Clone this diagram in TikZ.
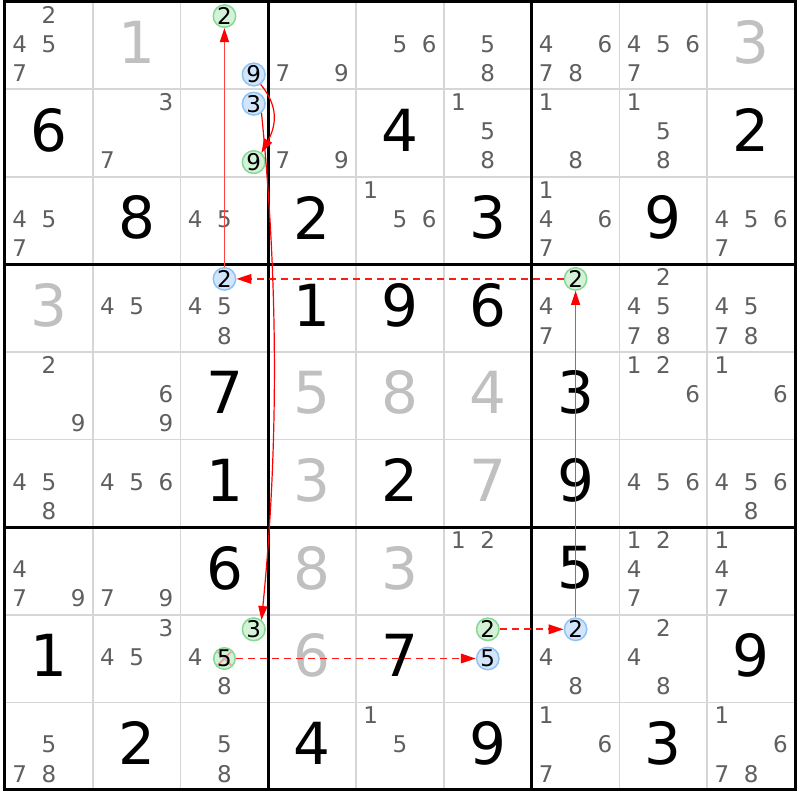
\documentclass[tikz,border=0pt]{standalone}
\usepackage{fontspec}
\setmainfont{DejaVu Sans}
\usetikzlibrary{arrows.meta}
\definecolor{givencol}{HTML}{C0C0C0}
\definecolor{candcol}{HTML}{5F5F5F}
\definecolor{gridthin}{HTML}{D6D6D6}
\definecolor{gfill}{HTML}{D4F2D8}
\definecolor{gline}{HTML}{86D895}
\definecolor{bfill}{HTML}{D2E5FA}
\definecolor{bline}{HTML}{8EC3F4}
\definecolor{xcol}{HTML}{F4A0A0}
\definecolor{linkred}{HTML}{FF1A1A}
\begin{document}
\begin{tikzpicture}[x=87.78pt,y=87.6pt,
  cand/.style={text=candcol, font=\fontsize{23}{23}\selectfont, inner sep=0pt, anchor=center, yshift=1.5pt},
  big/.style={font=\fontsize{58}{58}\selectfont, inner sep=0pt, anchor=center, yshift=3pt},
  givn/.style={big, text=givencol},
  solved/.style={big, text=black},
  oncirc/.style={circle, draw=gline, fill=gfill, line width=1.5pt, minimum size=21.5pt, inner sep=0pt, font=\fontsize{23}{23}\selectfont, text=black},
  offcirc/.style={oncirc, draw=bline, fill=bfill},
  circtext/.style={inner sep=0pt, font=\fontsize{23}{23}\selectfont, text=black},
  strong/.style={draw=red!75, line width=1.2pt, -{Triangle[length=14pt,width=9pt,color=red]}},
  curvelink/.style={draw=red, line width=1.2pt, -{Triangle[length=14pt,width=9pt,color=red]}},
  weak/.style={draw=linkred, line width=1.9pt, dash pattern=on 7pt off 5pt, -{Triangle[length=15pt,width=9.5pt,color=red]}},
  thinline/.style={gridthin, line width=1.6pt},
  thickline/.style={black, line width=3pt},
]
\useasboundingbox[fill=white] (-5pt,1.5pt) rectangle (795pt,-798.5pt);
% grid
\foreach \i in {1,2,4,5,7,8} {
  \draw[thinline] (\i,0) -- (\i,-9);
  \draw[thinline] (0,-\i) -- (9,-\i);
}
\foreach \i in {3,6} {
  \draw[thickline] (\i,0) -- (\i,-9);
  \draw[thickline] (0,-\i) -- (9,-\i);
}
\draw[thickline, line join=miter] (0,0) rectangle (9,-9);
% givens
\foreach \r/\c/\v in {0/1/1, 0/8/3, 3/0/3, 4/3/5, 4/4/8, 4/5/4, 5/3/3, 5/5/7, 6/3/8, 6/4/3, 7/3/6}
  \node[givn] (d\r\c) at (\c+0.5,-\r-0.5) {\v};
% solved
\foreach \r/\c/\v in {1/0/6, 1/4/4, 1/8/2, 2/1/8, 2/3/2, 2/5/3, 2/7/9, 3/3/1, 3/4/9, 3/5/6, 4/2/7, 4/6/3, 5/2/1, 5/4/2, 5/6/9, 6/2/6, 6/6/5, 7/0/1, 7/4/7, 7/8/9, 8/1/2, 8/3/4, 8/5/9, 8/7/3}
  \node[solved] (d\r\c) at (\c+0.5,-\r-0.5) {\v};
% candidates
\foreach \r/\c/\ks in {0/0/{2,4,5,7}, 0/3/{7,9}, 0/4/{5,6}, 0/5/{5,8}, 0/6/{4,6,7,8}, 0/7/{4,5,6,7},
  1/1/{3,7}, 1/3/{7,9}, 1/5/{1,5,8}, 1/6/{1,8}, 1/7/{1,5,8},
  2/0/{4,5,7}, 2/2/{4,5}, 2/4/{1,5,6}, 2/6/{1,4,6,7}, 2/8/{4,5,6,7},
  3/1/{4,5}, 3/2/{4,5,8}, 3/6/{4,7}, 3/7/{2,4,5,7,8}, 3/8/{4,5,7,8},
  4/0/{2,9}, 4/1/{6,9}, 4/7/{1,2,6}, 4/8/{1,6},
  5/0/{4,5,8}, 5/1/{4,5,6}, 5/7/{4,5,6}, 5/8/{4,5,6,8},
  6/0/{4,7,9}, 6/1/{7,9}, 6/5/{1,2}, 6/7/{1,2,4,7}, 6/8/{1,4,7},
  7/1/{3,4,5}, 7/2/{4,8}, 7/6/{4,8}, 7/7/{2,4,8},
  8/0/{5,7,8}, 8/2/{5,8}, 8/4/{1,5}, 8/6/{1,6,7}, 8/8/{1,6,7,8}} {
  \foreach \k in \ks {
    \pgfmathsetmacro\cx{\c+(mod(\k-1,3)+0.5)/3}
    \pgfmathsetmacro\cy{-\r-(floor((\k-1)/3)+0.5)/3}
    \node[cand] (n\r\c\k) at (\cx,\cy) {\k};
  }
}
% circled candidates
\node[oncirc]  (n022) at (2.5,-0.166667) {2};
\node[offcirc] (n029) at (2.833333,-0.833333) {9};
\node[offcirc] (n123) at (2.833333,-1.166667) {3};
\node[oncirc]  (n129) at (2.833333,-1.833333) {9};
\node[offcirc] (n322) at (2.5,-3.166667) {2};
\node[oncirc]  (n362) at (6.5,-3.166667) {2};
\node[oncirc]  (n723) at (2.833333,-7.166667) {3};
\node[oncirc]  (n725) at (2.5,-7.5) {};
\draw[xcol, line width=1.8pt, shorten <=2pt, shorten >=2pt] (n725.135) -- (n725.-45);
\draw[xcol, line width=1.8pt, shorten <=2pt, shorten >=2pt] (n725.45) -- (n725.-135);
\node[circtext] (n725d) at (n725) {5};
\node[oncirc]  (n752) at (5.5,-7.166667) {2};
\node[offcirc] (n755) at (5.5,-7.5) {5};
\node[offcirc] (n762) at (6.5,-7.166667) {2};
% links
\draw[strong] (n322) -- (n022);
\draw[weak] (n362) -- (n322);
\draw[strong] (n762) -- (n362);
\draw[weak] (n752) -- (n762);
\draw[weak] (n725) -- (n755);
\draw[curvelink] (n029.-55) .. controls +(18pt,-22pt) and +(15pt,28pt) .. (n129.50);
\draw[curvelink] (n123.-50) .. controls +(17pt,-170pt) and +(17pt,170pt) .. (n723.50);
\end{tikzpicture}
\end{document}
